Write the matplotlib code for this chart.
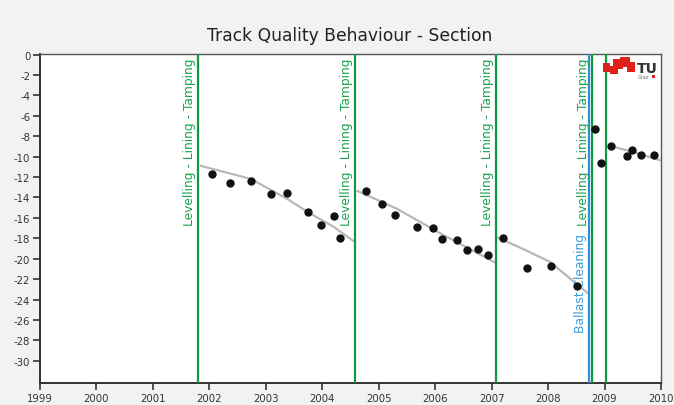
import matplotlib
matplotlib.use('Agg')
import matplotlib.pyplot as plt
from matplotlib.patches import Rectangle
from matplotlib.transforms import offset_copy

plt.rcParams['font.family'] = ['DejaVu Sans']
plt.rcParams['axes.unicode_minus'] = False

# measured points (year, quality value)
pts_x = [2002.04, 2002.37, 2002.74, 2003.09, 2003.38, 2003.75, 2003.98, 2004.21, 2004.31,
         2004.78, 2005.06, 2005.29, 2005.67, 2005.97, 2006.12, 2006.38, 2006.56, 2006.75, 2006.94,
         2007.20, 2007.62, 2008.05, 2008.51,
         2008.83, 2008.94, 2009.11, 2009.39, 2009.48, 2009.64, 2009.88]
pts_y = [-11.7, -12.6, -12.35, -13.7, -13.6, -15.4, -16.7, -15.8, -18.0,
         -13.4, -14.67, -15.7, -16.9, -17.0, -18.1, -18.2, -19.1, -19.0, -19.6,
         -17.95, -20.9, -20.76, -22.7,
         -7.28, -10.6, -8.92, -9.96, -9.34, -9.83, -9.86]

# trend lines per maintenance cycle
trend_x = [
    [2001.83, 2002.74, 2003.38, 2003.75, 2004.21, 2004.56],
    [2004.61, 2005.32, 2006.12, 2007.07],
    [2007.09, 2007.56, 2008.03, 2008.71],
    [2009.07, 2009.51, 2010.0],
]
trend_y = [
    [-10.88, -12.19, -14.15, -15.45, -16.9, -18.3],
    [-13.33, -15.1, -17.6, -20.4],
    [-17.9, -19.05, -20.3, -23.4],
    [-8.9, -9.56, -10.38],
]

# maintenance events
tamping_x = [2001.80, 2004.58, 2007.08, 2008.78, 2009.03]
tamping_label = ['Levelling - Lining - Tamping'] * 4 + ['']
ballast_x = [2008.73]
ballast_label = ['Ballast Cleaning']

x_ticks = list(range(1999, 2011))
y_ticks = list(range(0, -31, -2))

green = '#0f9a3e'
green_txt = '#1aa350'
blue = '#2b8fdc'
blue_txt = '#3a9be0'
grey_txt = '#333333'

fig = plt.figure(figsize=(6.74, 4.06), dpi=100)
fig.patch.set_facecolor('#f2f2f2')
ax = fig.add_axes([40 / 674, (406 - 384.3) / 406, 621 / 674, (384.3 - 54.5) / 406])
ax.set_facecolor('white')

ax.set_xlim(1999, 2010)
ax.set_ylim(-32.2, 0.1)
ax.set_xticks(x_ticks)
ax.set_xticklabels([str(t) for t in x_ticks])
ax.set_yticks(y_ticks)
ax.set_yticklabels([str(t) for t in y_ticks])
ax.tick_params(axis='both', direction='out', length=5, width=1.2, color='#333333',
               labelcolor=grey_txt, labelsize=7.3, pad=2)

for side in ['left', 'bottom']:
    ax.spines[side].set_color('#333333')
    ax.spines[side].set_linewidth(1.4)
for side in ['top', 'right']:
    ax.spines[side].set_color('#555555')
    ax.spines[side].set_linewidth(1.0)

for tx, ty in zip(trend_x, trend_y):
    ax.plot(tx, ty, color='#b8b8b8', lw=1.6, zorder=2, solid_capstyle='butt')

for x in tamping_x:
    ax.axvline(x, color=green, lw=1.6, zorder=3)
for x in ballast_x:
    ax.axvline(x, color=blue, lw=1.6, zorder=3)

lbl_tr = offset_copy(ax.transData, fig=fig, x=-2.5, y=0, units='dots')
for x, lab in zip(tamping_x, tamping_label):
    if lab:
        ax.text(x, -0.25, lab, rotation=90, ha='right', va='top', color=green_txt,
                fontsize=8.8, transform=lbl_tr, zorder=4)
for x, lab in zip(ballast_x, ballast_label):
    ax.text(x, -27.2, lab, rotation=90, ha='right', va='bottom', color=blue_txt,
            fontsize=8.8, transform=lbl_tr, zorder=4)

ax.plot(pts_x, pts_y, 'o', color='#111111', ms=5, zorder=5)

fig.text(350 / 674, 1 - 36 / 406, 'Track Quality Behaviour - Section', ha='center',
         va='center', fontsize=12.3, color='#222222')

# TU Graz logo (pixel coordinates of the figure)
lg = fig.add_axes([600 / 674, (406 - 82) / 406, 60 / 674, 26 / 406])
lg.set_xlim(600, 660)
lg.set_ylim(82, 56)
lg.axis('off')
lg.patch.set_alpha(0)
for x0, x1, y0, y1 in [(602.7, 610, 64, 73.3), (610, 618.3, 66.7, 75), (613.3, 623.3, 60, 70),
                       (620, 630, 58.3, 68.3), (626.7, 635, 63.3, 73.3)]:
    lg.add_patch(Rectangle((x0, y0), x1 - x0, y1 - y0, color='#e0201b', lw=0))
lg.text(636.5, 69, 'TU', fontsize=10, fontweight='bold', color='#333333', ha='left', va='center')
lg.text(638, 77.5, 'Graz', fontsize=3.5, color='#666666', ha='left', va='center')
lg.add_patch(Rectangle((651.5, 76), 3.5, 3, color='#e0201b', lw=0))

fig.savefig('out.png', dpi=100, facecolor=fig.get_facecolor())
